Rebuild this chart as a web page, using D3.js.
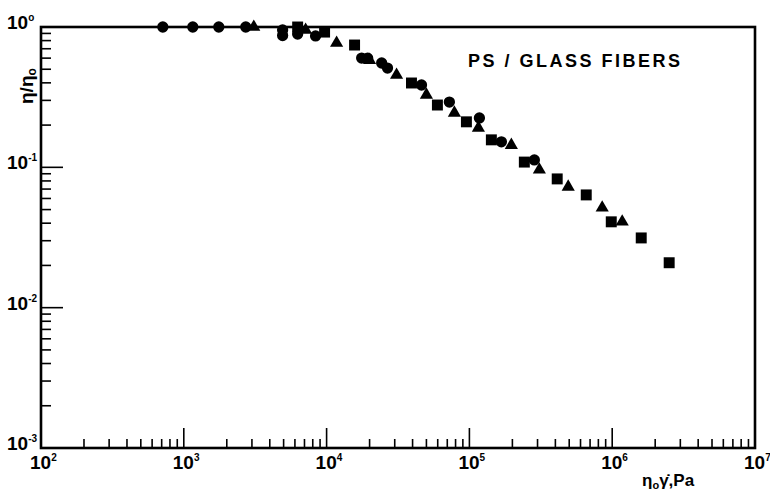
<!DOCTYPE html>
<html>
<head>
<meta charset="utf-8">
<script src="https://cdn.jsdelivr.net/npm/d3@7"></script>
<style>
  body { margin: 0; background: #fff; }
  text { font-family: "Liberation Sans", Arial, sans-serif; font-weight: bold; fill: #000; }
</style>
</head>
<body>
<svg id="chart" width="770" height="493"></svg>
<script>
"use strict";

// eta0*gamma_dot (Pa) vs eta/eta0
const circleX = [713, 1156, 1758, 2716, 4920, 4920, 6270, 8370, 17600, 19400, 24300, 26700, 46200, 72400, 117500, 167500, 285000];
const circleY = [1.0, 1.0, 1.0, 1.0, 0.952, 0.87, 0.891, 0.863, 0.601, 0.60, 0.554, 0.51, 0.386, 0.292, 0.225, 0.152, 0.113];

const squareX = [6270, 9680, 15700, 39300, 59700, 95300, 142500, 242500, 412000, 658000, 985000, 1597000, 2506000];
const squareY = [1.0, 0.92, 0.744, 0.399, 0.278, 0.211, 0.157, 0.109, 0.0827, 0.0636, 0.0409, 0.0314, 0.0209];

const triangleX = [3090, 7130, 11750, 20000, 30900, 50000, 78500, 115600, 196700, 309000, 492000, 851000, 1175000];
const triangleY = [1.0, 0.952, 0.769, 0.58, 0.455, 0.328, 0.244, 0.191, 0.144, 0.096, 0.0725, 0.0515, 0.0409];

const xTickExps = [2, 3, 4, 5, 6, 7];
const yTickExps = [0, -1, -2, -3];
const yTickSups = ["o", "-1", "-2", "-3"];

const plotL = 41, plotR = 755, plotT = 27, plotB = 448;

const svg = d3.select("#chart");

const x = d3.scaleLog().domain([1e2, 1e7]).range([plotL, plotR]);
const y = d3.scaleLog().domain([1e-3, 1]).range([plotB, plotT]);

// minor + major ticks, pointing inward
const xTicks = [];
for (let e = 2; e < 7; e++) for (let m = 1; m < 10; m++) xTicks.push(m * Math.pow(10, e));
xTicks.push(1e7);
const yTicks = [];
for (let e = -3; e < 0; e++) for (let m = 1; m < 10; m++) yTicks.push(m * Math.pow(10, e));
yTicks.push(1);

const isMajor = v => Math.abs(Math.log10(v) - Math.round(Math.log10(v))) < 1e-9;

svg.append("g").selectAll("line")
    .data(xTicks)
  .enter().append("line")
    .attr("x1", d => x(d)).attr("x2", d => x(d))
    .attr("y1", plotB).attr("y2", d => plotB - (isMajor(d) ? 20 : 9))
    .attr("stroke", "#000").attr("stroke-width", 1.6);

svg.append("g").selectAll("line")
    .data(yTicks)
  .enter().append("line")
    .attr("y1", d => y(d)).attr("y2", d => y(d))
    .attr("x1", plotL).attr("x2", d => plotL + (isMajor(d) ? 22 : 10))
    .attr("stroke", "#000").attr("stroke-width", 1.6);

// frame
svg.append("rect")
    .attr("x", plotL).attr("y", plotT)
    .attr("width", plotR - plotL).attr("height", plotB - plotT)
    .attr("fill", "none").attr("stroke", "#000").attr("stroke-width", 2.6);

// tick labels
const xl = svg.append("g").selectAll("text")
    .data(xTickExps)
  .enter().append("text")
    .attr("x", d => x(Math.pow(10, d)) - 11)
    .attr("y", 469)
    .attr("font-size", 19);
xl.append("tspan").text("10");
xl.append("tspan").attr("font-size", 10).attr("dy", -8).text(d => d);

const yl = svg.append("g").selectAll("text")
    .data(yTickExps)
  .enter().append("text")
    .attr("x", 7)
    .attr("y", d => y(Math.pow(10, d)) + 2)
    .attr("font-size", 19);
yl.append("tspan").text("10");
yl.append("tspan").attr("font-size", 10).attr("dy", -8).text((d, i) => yTickSups[i]);

// axis titles
const yt = svg.append("text")
    .attr("transform", "translate(33,104) rotate(-90)")
    .attr("font-size", 19);
yt.append("tspan").text("η/η");
yt.append("tspan").attr("font-size", 12).attr("dy", 3).text("o");

const xt = svg.append("text")
    .attr("x", 642).attr("y", 486)
    .attr("font-size", 17);
xt.append("tspan").text("η");
xt.append("tspan").attr("font-size", 11).attr("dy", 3).text("o");
xt.append("tspan").attr("dy", -3).text("γ̇,Pa");

svg.append("text")
    .attr("x", 468).attr("y", 67)
    .attr("font-size", 18)
    .attr("letter-spacing", 2.5)
    .text("PS / GLASS FIBERS");

// markers
const series = [
  { xs: circleX, ys: circleY, type: d3.symbolCircle, size: 100 },
  { xs: squareX, ys: squareY, type: d3.symbolSquare, size: 120 },
  { xs: triangleX, ys: triangleY, type: d3.symbolTriangle, size: 75 }
];

series.forEach(s => {
  svg.append("g").selectAll("path")
      .data(s.xs.map((v, i) => [v, s.ys[i]]))
    .enter().append("path")
      .attr("transform", d => `translate(${x(d[0])},${y(d[1])})`)
      .attr("d", d3.symbol().type(s.type).size(s.size))
      .attr("fill", "#000");
});
</script>
</body>
</html>
